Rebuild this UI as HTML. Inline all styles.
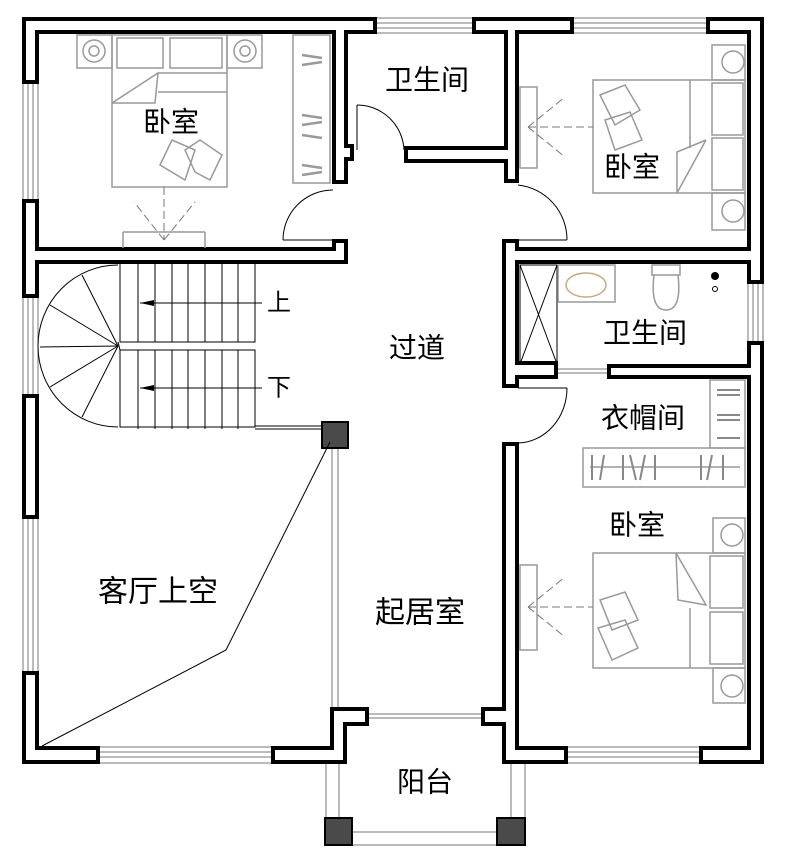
<!DOCTYPE html>
<html><head><meta charset="utf-8"><style>
html,body{margin:0;padding:0;background:#fff;}
svg{display:block;}
text{font-family:"Liberation Sans","Noto Sans CJK SC",sans-serif;fill:#000;}
</style></head><body>
<svg width="789" height="863" viewBox="0 0 789 863" xmlns="http://www.w3.org/2000/svg">
<!-- windows -->
<g fill="#fff" stroke="#777" stroke-width="1">
<rect x="376" y="18" width="97" height="15"/><line x1="376" y1="23" x2="473" y2="23"/><line x1="376" y1="28" x2="473" y2="28"/>
<rect x="573" y="18" width="134" height="15"/><line x1="573" y1="23" x2="707" y2="23"/><line x1="573" y1="28" x2="707" y2="28"/>
<rect x="23" y="83" width="15" height="117"/><line x1="28" y1="83" x2="28" y2="200"/><line x1="33" y1="83" x2="33" y2="200"/>
<rect x="23" y="297" width="15" height="98"/><line x1="28" y1="297" x2="28" y2="395"/><line x1="33" y1="297" x2="33" y2="395"/>
<rect x="23" y="518" width="15" height="154"/><line x1="28" y1="518" x2="28" y2="672"/><line x1="33" y1="518" x2="33" y2="672"/>
<rect x="748" y="283" width="15" height="59"/><line x1="753" y1="283" x2="753" y2="342"/><line x1="758" y1="283" x2="758" y2="342"/>
<rect x="99" y="747" width="173" height="16"/><line x1="99" y1="752" x2="272" y2="752"/><line x1="99" y1="757" x2="272" y2="757"/>
<rect x="567" y="747" width="133" height="16"/><line x1="567" y1="752" x2="700" y2="752"/><line x1="567" y1="757" x2="700" y2="757"/>
<line x1="332" y1="448" x2="332" y2="708"/><line x1="338" y1="448" x2="338" y2="708"/>
<line x1="326" y1="763" x2="326" y2="818"/><line x1="339" y1="763" x2="339" y2="818"/>
<line x1="511" y1="763" x2="511" y2="818"/><line x1="525" y1="763" x2="525" y2="818"/>
<line x1="352" y1="832" x2="497" y2="832"/><line x1="352" y1="845" x2="497" y2="845"/>
<line x1="368" y1="714" x2="482" y2="714"/><line x1="368" y1="718" x2="482" y2="718"/>
<line x1="557" y1="369" x2="608" y2="369"/><line x1="557" y1="373" x2="608" y2="373"/>
</g>
<g fill="#000" stroke="#000" stroke-width="2">
<rect x="23" y="18" width="353" height="15"/>
<rect x="23" y="18" width="15" height="65"/><rect x="23" y="200" width="15" height="97"/><rect x="23" y="395" width="15" height="123"/><rect x="23" y="672" width="15" height="91"/>
<rect x="23" y="248" width="324" height="15"/>
<rect x="333" y="18" width="14" height="165"/><rect x="333" y="145" width="20" height="15"/>
<rect x="333" y="240" width="14" height="23"/>
<rect x="473" y="18" width="100" height="15"/>
<rect x="505" y="18" width="13" height="164"/>
<rect x="405" y="147" width="113" height="15"/>
<rect x="707" y="18" width="56" height="15"/>
<rect x="748" y="18" width="15" height="265"/><rect x="748" y="342" width="15" height="421"/>
<rect x="503" y="240" width="15" height="147"/><rect x="503" y="248" width="260" height="15"/>
<rect x="608" y="365" width="155" height="13"/><rect x="503" y="362" width="54" height="16"/>
<rect x="503" y="443" width="15" height="320"/>
<rect x="503" y="747" width="64" height="16"/><rect x="700" y="747" width="63" height="16"/>
<rect x="482" y="708" width="36" height="17"/>
<rect x="23" y="747" width="76" height="16"/><rect x="272" y="747" width="74" height="16"/>
<rect x="331" y="708" width="15" height="55"/><rect x="331" y="708" width="37" height="17"/>
</g>
<g fill="#fff">
<rect x="26" y="21" width="347" height="9"/>
<rect x="26" y="21" width="9" height="59"/><rect x="26" y="203" width="9" height="91"/><rect x="26" y="398" width="9" height="117"/><rect x="26" y="675" width="9" height="85"/>
<rect x="26" y="251" width="318" height="9"/>
<rect x="336" y="21" width="8" height="159"/><rect x="336" y="148" width="14" height="9"/>
<rect x="336" y="243" width="8" height="17"/>
<rect x="476" y="21" width="94" height="9"/>
<rect x="508" y="21" width="7" height="158"/>
<rect x="408" y="150" width="107" height="9"/>
<rect x="710" y="21" width="50" height="9"/>
<rect x="751" y="21" width="9" height="259"/><rect x="751" y="345" width="9" height="415"/>
<rect x="506" y="243" width="9" height="141"/><rect x="506" y="251" width="254" height="9"/>
<rect x="611" y="368" width="149" height="7"/><rect x="506" y="365" width="48" height="10"/>
<rect x="506" y="446" width="9" height="314"/>
<rect x="506" y="750" width="58" height="10"/><rect x="703" y="750" width="57" height="10"/>
<rect x="485" y="711" width="30" height="11"/>
<rect x="26" y="750" width="70" height="10"/><rect x="275" y="750" width="68" height="10"/>
<rect x="334" y="711" width="9" height="49"/><rect x="334" y="711" width="31" height="11"/>
</g>
<g fill="#4a4a4a" stroke="#000" stroke-width="2">
<rect x="322" y="422" width="26" height="26"/><rect x="325" y="818" width="27" height="27"/><rect x="497" y="818" width="28" height="27"/>
</g>
<g fill="none" stroke="#000" stroke-width="1">
<line x1="283" y1="240" x2="333" y2="240"/><path d="M283,240 A50,50 0 0 1 333,190"/>
<line x1="357" y1="105" x2="357" y2="150"/><path d="M357,105 A47,47 0 0 1 404,150"/>
<line x1="518" y1="240" x2="567" y2="240"/><path d="M518,185 A55,55 0 0 1 567,240"/>
<line x1="518" y1="388" x2="567" y2="388"/><path d="M567,388 A50,55 0 0 1 518,443"/>
<polyline points="42,746 226,650 330,442"/>
<path d="M118,265 A80,81 0 0 0 118,427"/>
<line x1="118" y1="346" x2="82" y2="275"/><line x1="118" y1="346" x2="50" y2="305"/><line x1="118" y1="346" x2="40" y2="347"/><line x1="118" y1="346" x2="50" y2="387"/><line x1="118" y1="346" x2="82" y2="417"/>
<rect x="120" y="263" width="135" height="79"/><rect x="120" y="350" width="135" height="77"/>
<line x1="118" y1="342" x2="120" y2="350"/>
<g id="tr"><line x1="138" y1="263" x2="138" y2="342"/><line x1="155" y1="263" x2="155" y2="342"/><line x1="172" y1="263" x2="172" y2="342"/><line x1="188" y1="263" x2="188" y2="342"/><line x1="205" y1="263" x2="205" y2="342"/><line x1="222" y1="263" x2="222" y2="342"/><line x1="238" y1="263" x2="238" y2="342"/></g>
<use href="#tr" transform="translate(0,87)"/>
<line x1="140" y1="303" x2="262" y2="303"/><line x1="140" y1="388" x2="262" y2="388"/>
<line x1="255" y1="426" x2="322" y2="426"/><line x1="255" y1="429" x2="322" y2="429"/>
<rect x="520" y="265" width="37" height="99"/><line x1="520" y1="265" x2="557" y2="364"/><line x1="557" y1="265" x2="520" y2="364"/>
</g>
<path d="M140,303 l14,-3 v6 z" fill="#000"/><path d="M140,388 l14,-3 v6 z" fill="#000"/>
<g fill="none" stroke="#999" stroke-width="1.5">
<rect x="77" y="35" width="35" height="33"/><rect x="227" y="35" width="35" height="33"/>
<circle cx="94" cy="51" r="11"/><circle cx="94" cy="51" r="5"/><circle cx="245" cy="51" r="11"/><circle cx="245" cy="51" r="5"/>
<rect x="112" y="35" width="115" height="152"/>
<rect x="117" y="38" width="46" height="30"/><rect x="170" y="38" width="52" height="30"/>
<line x1="158" y1="73" x2="227" y2="73"/><line x1="158" y1="92" x2="227" y2="92"/><polyline points="112,103 158,73 155,103 112,103"/>
<polygon points="160,165 172,140 195,150 185,180"/><polygon points="185,150 200,140 222,155 210,180 195,172"/>
<rect x="293" y="35" width="37" height="148"/>
<line x1="123" y1="248" x2="123" y2="232"/><line x1="123" y1="232" x2="205" y2="232"/><line x1="205" y1="232" x2="205" y2="248"/>
<g stroke-width="2.5"><line x1="302" y1="55" x2="322" y2="58"/><line x1="302" y1="65" x2="322" y2="62"/><line x1="302" y1="115" x2="322" y2="118"/><line x1="302" y1="125" x2="322" y2="122"/><line x1="302" y1="135" x2="322" y2="138"/><line x1="302" y1="165" x2="322" y2="168"/><line x1="302" y1="175" x2="322" y2="172"/></g>
<rect x="712" y="45" width="33" height="35"/><rect x="712" y="193" width="33" height="37"/>
<circle cx="733" cy="62" r="11"/><circle cx="733" cy="211" r="11"/>
<rect x="593" y="80" width="152" height="113"/>
<rect x="712" y="83" width="31" height="52"/><rect x="712" y="138" width="31" height="52"/>
<line x1="690" y1="80" x2="690" y2="148"/><polyline points="706,140 677,193 677,152 706,140"/>
<polygon points="600,95 625,85 640,110 615,125"/><polygon points="605,120 630,112 642,140 615,150"/>
<rect x="520" y="87" width="17" height="81"/>
<rect x="713" y="518" width="32" height="35"/><rect x="713" y="668" width="32" height="35"/>
<circle cx="732" cy="535" r="11"/><circle cx="732" cy="686" r="11"/>
<rect x="593" y="553" width="152" height="115"/>
<rect x="710" y="556" width="33" height="52"/><rect x="710" y="612" width="33" height="52"/>
<line x1="690" y1="608" x2="690" y2="668"/><polyline points="676,553 706,605 678,600 676,553"/>
<polygon points="600,600 625,592 638,620 612,630"/><polygon points="598,628 625,620 638,648 612,660"/>
<rect x="520" y="565" width="17" height="85"/>
<rect x="710" y="380" width="35" height="68"/><rect x="583" y="448" width="162" height="39"/><line x1="590" y1="467" x2="740" y2="467"/>
<g stroke="#888" stroke-width="2"><line x1="717" y1="390" x2="740" y2="390"/><line x1="717" y1="395" x2="740" y2="395"/><line x1="717" y1="415" x2="740" y2="415"/><line x1="717" y1="420" x2="740" y2="420"/><line x1="717" y1="438" x2="740" y2="438"/>
<line x1="592" y1="455" x2="592" y2="480"/><line x1="600" y1="480" x2="604" y2="455"/><line x1="623" y1="455" x2="623" y2="480"/><line x1="630" y1="455" x2="636" y2="480"/><line x1="640" y1="480" x2="645" y2="455"/><line x1="655" y1="455" x2="655" y2="480"/><line x1="701" y1="455" x2="701" y2="480"/><line x1="707" y1="480" x2="712" y2="455"/><line x1="723" y1="455" x2="723" y2="480"/></g>
<rect x="558" y="265" width="57" height="37"/>
<rect x="652" y="265" width="28" height="10"/><path d="M654,275 Q650,310 666,310 Q682,310 678,275"/>
</g>
<ellipse cx="586" cy="285" rx="20" ry="12" fill="none" stroke="#c9a882" stroke-width="1.5"/>
<circle cx="715" cy="276" r="4" fill="#000"/><circle cx="715" cy="289" r="2.5" fill="none" stroke="#000"/>
<g stroke="#777" stroke-width="1" stroke-dasharray="8,4" fill="none">
<line x1="164" y1="187" x2="164" y2="240"/><line x1="164" y1="240" x2="134" y2="202"/><line x1="164" y1="240" x2="195" y2="202"/>
<line x1="528" y1="127" x2="593" y2="127"/><line x1="528" y1="127" x2="565" y2="97"/><line x1="528" y1="127" x2="565" y2="157"/>
<line x1="528" y1="607" x2="593" y2="607"/><line x1="528" y1="607" x2="565" y2="577"/><line x1="528" y1="607" x2="565" y2="637"/>
</g>
<g font-size="28" text-anchor="middle" dominant-baseline="central">
<text x="171" y="122">卧室</text>
<text x="427" y="80">卫生间</text>
<text x="632" y="167">卧室</text>
<text x="645" y="333">卫生间</text>
<text x="417" y="348">过道</text>
<text x="643" y="418">衣帽间</text>
<text x="637" y="525">卧室</text>
<text x="158" y="592" font-size="30">客厅上空</text>
<text x="420" y="613" font-size="30">起居室</text>
<text x="425" y="782">阳台</text>
<text x="279" y="303" font-size="24">上</text>
<text x="279" y="388" font-size="24">下</text>
</g>
</svg>
</body></html>
